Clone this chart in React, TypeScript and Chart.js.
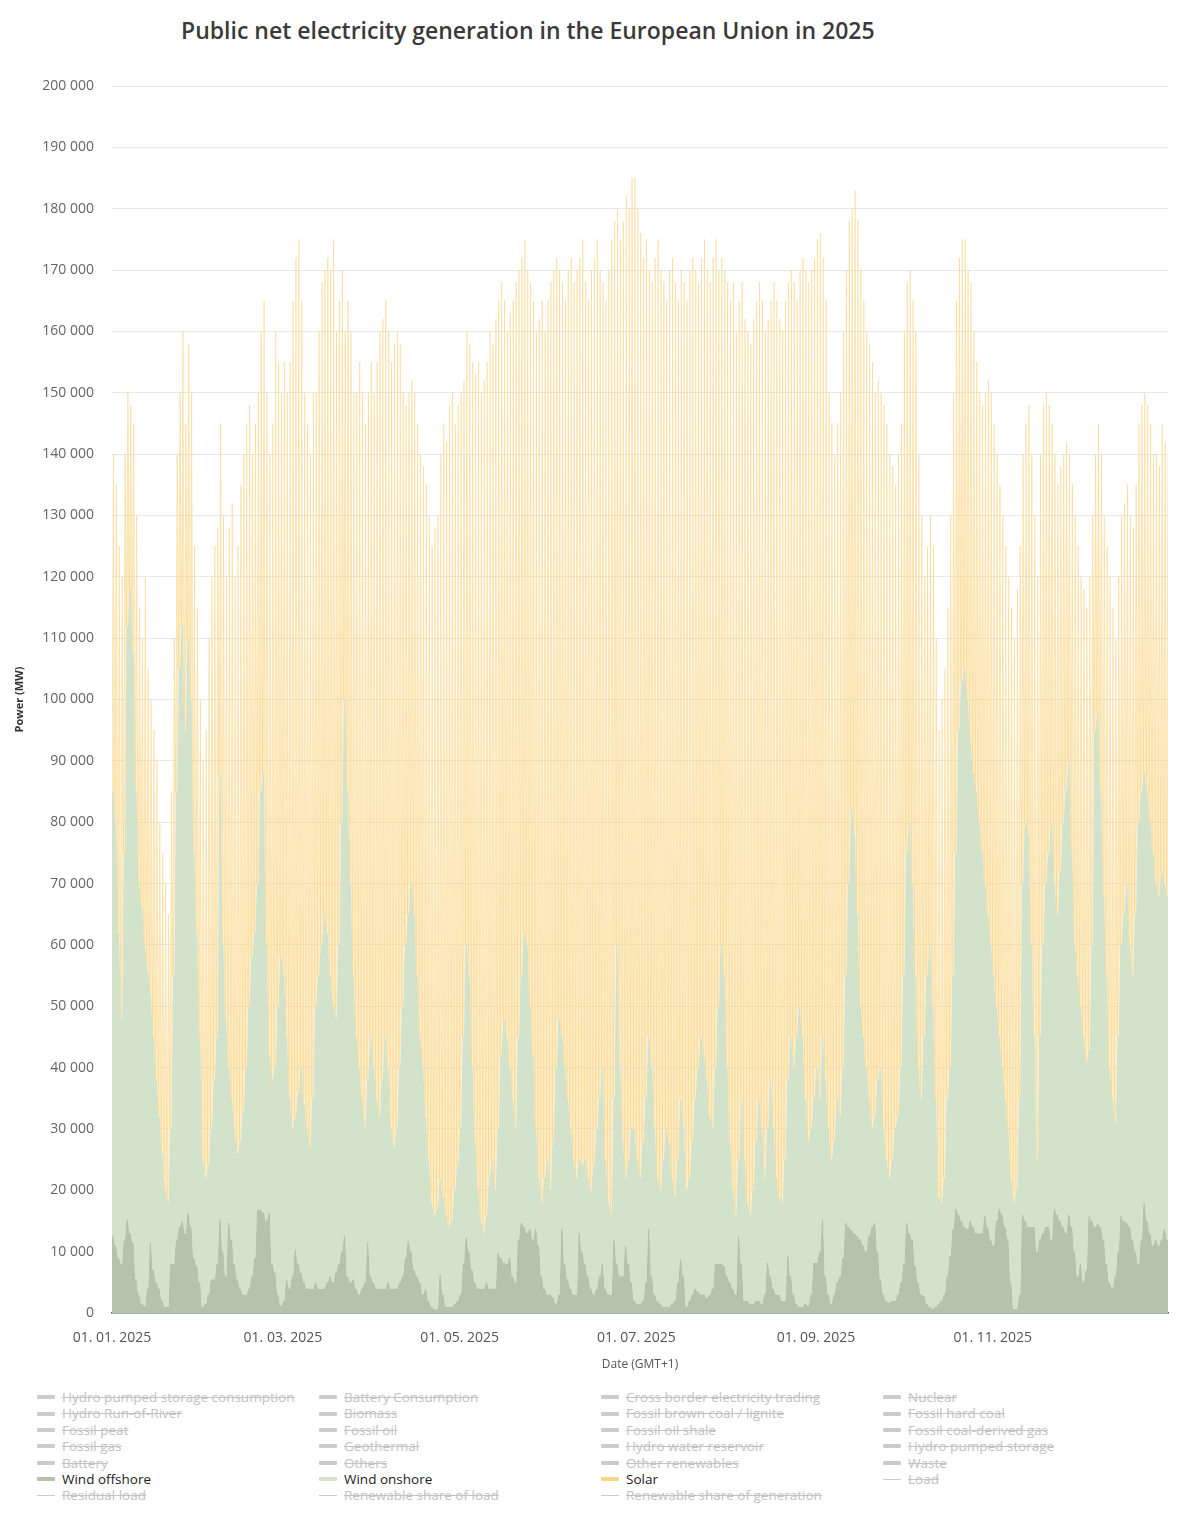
import { useEffect, useRef } from "react"
import { Chart, registerables } from "chart.js"

Chart.register(...registerables)

const FONT = '"Open Sans", "Noto Sans", sans-serif'

// x axis: day of year 2025 (0 = 01.01.)
const tickDays = [0, 59, 120, 181, 243, 304]
const tickLabels = ["01. 01. 2025", "01. 03. 2025", "01. 05. 2025", "01. 07. 2025", "01. 09. 2025", "01. 11. 2025"]

// daily readings in MW, one value per day
const windOffshore = [
	12600, 11000, 9000, 8000, 12000, 15300, 13000, 11500, 5500, 3000,
	1500, 1200, 4000, 11500, 7000, 5000, 4000, 2000, 1000, 1000,
	8000, 8000, 12000, 14000, 15000, 13000, 16400, 14000, 9000, 7700,
	5000, 1000, 1500, 3000, 5500, 5500, 8000, 15300, 10000, 6000,
	14700, 12000, 8000, 5500, 4000, 3000, 3000, 4000, 6000, 9000,
	16800, 16800, 16400, 15000, 16400, 8000, 6600, 3000, 1200, 2000,
	5500, 4000, 6000, 10400, 8000, 6600, 5000, 4000, 4000, 3900,
	5000, 4000, 3900, 4000, 5000, 6000, 5000, 6600, 8000, 10000,
	12600, 6000, 5000, 5500, 4000, 3000, 4000, 5000, 11500, 6000,
	5000, 4000, 4000, 3900, 4000, 5000, 3900, 4000, 4000, 5000,
	6000, 9000, 11800, 10000, 7000, 6000, 5000, 3000, 4000, 2000,
	1000, 600, 600, 6300, 3000, 1000, 1000, 1000, 1500, 2000,
	3000, 8000, 12300, 10000, 7000, 5000, 4000, 4000, 3900, 5000,
	4000, 4000, 4000, 9800, 9000, 8200, 8000, 9000, 6000, 5000,
	12000, 14700, 14000, 13100, 13700, 12000, 13700, 11000, 6000, 4000,
	3000, 3000, 2500, 1500, 3000, 13700, 8000, 5500, 4000, 3000,
	3000, 13000, 10000, 8000, 6000, 4000, 3000, 3900, 6000, 8000,
	4000, 3000, 3000, 12000, 8000, 6000, 6000, 11000, 8000, 5000,
	2000, 1500, 1500, 2000, 5000, 13700, 6000, 3000, 2000, 1500,
	1000, 1000, 1000, 1500, 2000, 5000, 8800, 6000, 1000, 2000,
	3000, 4000, 3500, 3000, 3000, 2500, 3000, 4000, 8000, 8000,
	8000, 7700, 6000, 5000, 4000, 3000, 12600, 8000, 2000, 2000,
	1500, 1500, 2000, 2000, 1500, 3000, 8200, 6000, 4000, 3000,
	3000, 2000, 2000, 9300, 6000, 3000, 1500, 1000, 1000, 1500,
	1200, 3000, 8200, 8200, 10000, 15300, 6000, 3000, 1500, 3000,
	5000, 6000, 9000, 14700, 14000, 13500, 13000, 12600, 12000, 11000,
	10000, 12600, 14000, 14700, 10000, 5500, 3000, 2000, 1700, 2000,
	2000, 3000, 5000, 8000, 14700, 13000, 12000, 7700, 5000, 3000,
	2800, 1500, 1000, 700, 1000, 1500, 2000, 3000, 6000, 9300,
	13700, 17000, 16000, 15000, 14000, 13700, 15000, 14000, 13000, 13000,
	13000, 15800, 14000, 12000, 11000, 15000, 17000, 16000, 14000, 12000,
	5000, 700, 700, 3000, 16000, 15000, 14000, 14000, 14000, 10000,
	12000, 13000, 14000, 14000, 12000, 17000, 16000, 15000, 14000, 13000,
	16000, 14000, 10000, 6000, 8000, 5000, 7000, 15800, 15000, 14000,
	14500, 14000, 12000, 8000, 5000, 4000, 6000, 10000, 15800, 15000,
	14700, 14000, 12000, 10000, 8000, 12000, 18000, 15000, 13000, 11000,
	12000, 11000, 12000, 13700, 12000,
]

const windOnshore = [
	72400, 69000, 53000, 40000, 63000, 96700, 105000, 96500, 79500, 67000,
	64500, 58800, 52000, 40500, 38000, 33000, 28000, 24000, 19000, 17000,
	22000, 47000, 73000, 91000, 97000, 82000, 93600, 86000, 66000, 54300,
	40000, 24000, 20500, 21000, 24500, 32500, 37000, 72700, 50000, 42000,
	25300, 23000, 22000, 20500, 24000, 30000, 37000, 46000, 52000, 53000,
	53200, 68200, 71600, 45000, 25600, 30000, 33400, 47000, 56800, 53000,
	39500, 31000, 24000, 21600, 28000, 33400, 29000, 26000, 23000, 31100,
	45000, 51000, 56100, 61000, 57000, 49000, 45000, 41400, 52000, 70000,
	87400, 79000, 65000, 49500, 41000, 37000, 31000, 25000, 26500, 39000,
	35000, 31000, 28000, 34100, 41000, 35000, 26100, 23000, 26000, 35000,
	44000, 51000, 53200, 60000, 58000, 49000, 40000, 37000, 28000, 23000,
	17000, 15400, 16400, 15700, 16000, 15000, 13000, 14000, 18500, 22000,
	27000, 37000, 47700, 45000, 33000, 23000, 16000, 11000, 9100, 11000,
	18000, 21000, 16000, 20200, 33000, 39800, 37000, 31000, 29000, 25000,
	33000, 40300, 48000, 46900, 36300, 30000, 16300, 11000, 12000, 18000,
	22000, 17000, 25500, 38500, 45000, 31300, 32000, 29500, 26000, 22000,
	19000, 12000, 14000, 17000, 16000, 16000, 21000, 26100, 29000, 32000,
	21000, 15000, 13000, 23000, 52000, 34000, 22000, 11000, 17000, 25000,
	28000, 23500, 20500, 26000, 30000, 31300, 34000, 27000, 20000, 18500,
	24000, 29000, 27000, 20500, 17000, 20000, 26200, 24000, 19000, 20000,
	25000, 31000, 36500, 42000, 39000, 35500, 29000, 26000, 32000, 42000,
	52000, 47300, 34000, 23000, 16000, 13000, 12400, 27000, 23000, 16000,
	14500, 18500, 26000, 33000, 28500, 19000, 21800, 32000, 26000, 19000,
	16000, 16000, 23000, 28700, 39000, 37000, 43500, 49000, 44000, 33500,
	26800, 27000, 26800, 31800, 25000, 29700, 32000, 27000, 23500, 25000,
	30000, 26000, 31000, 40300, 56000, 68500, 65000, 52400, 38000, 34000,
	30000, 22400, 16000, 17300, 28000, 34500, 27000, 23000, 20300, 23000,
	28000, 29000, 35000, 47000, 60300, 67000, 58000, 47300, 35000, 32000,
	42200, 53500, 59000, 49300, 34000, 17500, 16000, 19000, 29000, 30700,
	41300, 58000, 79000, 88000, 91000, 86300, 78000, 74000, 72000, 67000,
	62000, 54200, 51000, 48000, 44000, 35000, 28000, 24000, 21000, 18000,
	17000, 17300, 19300, 32000, 54000, 65000, 64000, 46000, 31000, 15000,
	33000, 47000, 56000, 61000, 68000, 53000, 49000, 57000, 66000, 72000,
	74000, 61000, 50000, 49000, 42000, 40000, 34000, 27200, 45000, 81000,
	83500, 71000, 56000, 47000, 35000, 31000, 25000, 35000, 44200, 50000,
	55300, 46000, 43000, 55000, 72000, 73000, 70000, 70000, 67000, 64000,
	58000, 57000, 60000, 56300, 56000,
]

// solar at midday (night value is zero)
const solarNoon = [
	55000, 55000, 63000, 72000, 65000, 38000, 30000, 37000, 45000, 45000,
	44000, 60000, 49000, 48000, 50000, 52000, 48000, 49000, 50000, 47000,
	55000, 55000, 55000, 45000, 48000, 50000, 48000, 50000, 50000, 53000,
	55000, 65000, 73000, 86000, 90000, 87000, 83000, 57000, 70000, 72000,
	88000, 97000, 90000, 99000, 107000, 107000, 105000, 98000, 82000, 83000,
	80000, 75000, 77000, 90000, 98000, 107000, 120000, 105000, 92000, 100000,
	105000, 120000, 135000, 140000, 139000, 125000, 116000, 115000, 113000, 115000,
	100000, 105000, 108000, 105000, 110000, 115000, 125000, 112000, 105000, 90000,
	60000, 80000, 90000, 95000, 105000, 115000, 115000, 115000, 112000, 110000,
	110000, 120000, 128000, 124000, 120000, 120000, 125000, 131000, 130000, 118000,
	100000, 88000, 85000, 82000, 85000, 90000, 95000, 98000, 103000, 105000,
	107000, 112000, 113000, 118000, 126000, 126000, 134000, 135000, 125000, 124000,
	120000, 107000, 100000, 103000, 115000, 125000, 135000, 135000, 139000, 139000,
	138000, 133000, 142000, 135000, 126000, 117000, 115000, 123000, 130000, 138000,
	125000, 117000, 113000, 110000, 118000, 123000, 130000, 140000, 147000, 138000,
	140000, 148000, 142000, 132000, 122000, 123000, 125000, 135000, 142000, 143000,
	148000, 147000, 151000, 143000, 143000, 150000, 148000, 145000, 135000, 128000,
	140000, 152000, 159000, 143000, 120000, 135000, 150000, 160000, 155000, 155000,
	155000, 155000, 154000, 144000, 140000, 125000, 128000, 142000, 153000, 150000,
	143000, 135000, 142000, 150000, 149000, 140000, 135000, 138000, 145000, 148000,
	144000, 135000, 128000, 127000, 133000, 132000, 136000, 142000, 135000, 120000,
	112000, 115000, 128000, 137000, 148000, 144000, 140000, 133000, 137000, 142000,
	142000, 142000, 137000, 133000, 135000, 138000, 132000, 127000, 138000, 143000,
	143000, 142000, 140000, 130000, 125000, 128000, 120000, 120000, 127000, 135000,
	140000, 140000, 137000, 135000, 141000, 127000, 127000, 120000, 120000, 112000,
	110000, 118000, 120000, 115000, 108000, 98000, 105000, 113000, 120000, 120000,
	120000, 123000, 125000, 118000, 114000, 110000, 118000, 120000, 118000, 113000,
	105000, 108000, 105000, 105000, 93000, 90000, 95000, 105000, 100000, 95000,
	75000, 70000, 70000, 75000, 75000, 76000, 82000, 83000, 80000, 90000,
	95000, 90000, 77000, 72000, 70000, 70000, 75000, 72000, 70000, 70000,
	73000, 80000, 87000, 90000, 90000, 90000, 90000, 90000, 90000, 90000,
	93000, 92000, 98000, 90000, 70000, 65000, 70000, 80000, 85000, 95000,
	95000, 88000, 80000, 73000, 65000, 70000, 70000, 66000, 60000, 57000,
	50000, 60000, 70000, 70000, 70000, 73000, 74000, 77000, 70000, 45000,
	47000, 55000, 62000, 70000, 80000, 80000, 79000, 75000, 70000, 67000,
	65000, 70000, 73000, 70000, 65000, 63000, 62000, 63000, 65000, 65000,
	70000, 70000, 73000, 72000, 72000,
]

const legendRows = [
	["Hydro pumped storage consumption", "Battery Consumption", "Cross border electricity trading", "Nuclear"],
	["Hydro Run-of-River", "Biomass", "Fossil brown coal / lignite", "Fossil hard coal"],
	["Fossil peat", "Fossil oil", "Fossil oil shale", "Fossil coal-derived gas"],
	["Fossil gas", "Geothermal", "Hydro water reservoir", "Hydro pumped storage"],
	["Battery", "Others", "Other renewables", "Waste"],
	["Wind offshore", "Wind onshore", "Solar", "Load"],
	["Residual load", "Renewable share of load", "Renewable share of generation"],
]
const lineSeries = ["Load", "Residual load", "Renewable share of load", "Renewable share of generation"]
const shownColors: Record<string, string> = {
	"Wind offshore": "#b4c4ac",
	"Wind onshore": "#d3e2ca",
	Solar: "#fbd784",
}

// two samples per day: midnight and noon
const dayPoints = (values: number[]) => values.flatMap((v, d) => [{ x: d, y: v }, { x: d + 0.5, y: v }])
const solarPoints = solarNoon.flatMap((v, d) => [{ x: d, y: 0 }, { x: d + 0.5, y: v }])

const formatMW = (v: number) => String(v).replace(/\B(?=(\d{3})+(?!\d))/g, " ")

export default function App() {
	const chartRef = useRef<HTMLCanvasElement>(null)
	const chartInstance = useRef<Chart | null>(null)

	useEffect(() => {
		document.body.style.margin = "0"
		if (!chartRef.current) return
		if (chartInstance.current) chartInstance.current.destroy()
		const ctx = chartRef.current.getContext("2d")
		if (!ctx) return

		chartInstance.current = new Chart(ctx, {
			type: "line",
			data: {
				datasets: [
					{
						label: "Wind offshore",
						data: dayPoints(windOffshore),
						backgroundColor: "#b4c4ac",
						borderWidth: 0,
						fill: "origin",
					},
					{
						label: "Wind onshore",
						data: dayPoints(windOnshore),
						backgroundColor: "#d3e2ca",
						borderWidth: 0,
						fill: "-1",
					},
					{
						label: "Solar",
						data: solarPoints,
						backgroundColor: "rgba(252, 218, 140, 0.48)",
						borderColor: "rgba(246, 204, 112, 0.7)",
						borderWidth: 0.6,
						fill: "-1",
					},
				],
			},
			options: {
				responsive: false,
				animation: false,
				devicePixelRatio: 1,
				events: [],
				layout: { padding: { top: 86, right: 32, left: 0, bottom: 0 } },
				elements: { point: { radius: 0 }, line: { tension: 0 } },
				plugins: { legend: { display: false }, tooltip: { enabled: false } },
				scales: {
					x: {
						type: "linear",
						min: 0,
						max: 364.5,
						grid: { display: false, drawTicks: false },
						border: { display: true, color: "#5f5f5f", width: 1.5 },
						afterBuildTicks: (scale: any) => {
							scale.ticks = tickDays.map((v) => ({ value: v }))
						},
						afterFit: (scale: any) => {
							scale.height = 67
						},
						ticks: {
							autoSkip: false,
							maxRotation: 0,
							padding: 17,
							color: "#555",
							font: { family: FONT, size: 14 },
							callback: (_v: any, i: number) => tickLabels[i],
						},
						title: {
							display: true,
							text: "Date (GMT+1)",
							color: "#555",
							font: { family: FONT, size: 12 },
							padding: { top: 4, bottom: 8 },
						},
					},
					y: {
						stacked: true,
						min: 0,
						max: 200000,
						z: 1,
						border: { display: false },
						grid: {
							drawTicks: false,
							color: (c: any) => (c.tick && c.tick.value === 0 ? "rgba(0,0,0,0)" : "rgba(0,0,0,0.085)"),
						},
						afterFit: (scale: any) => {
							scale.width = 112
						},
						ticks: {
							stepSize: 10000,
							padding: 18,
							color: "#666",
							font: { family: FONT, size: 14 },
							callback: (v: any) => formatMW(Number(v)),
						},
						title: {
							display: true,
							text: "Power (MW)",
							color: "#333",
							font: { family: FONT, size: 11, weight: "bold" },
							padding: { top: 13, bottom: 0 },
						},
					},
				},
			},
		})

		return () => {
			if (chartInstance.current) {
				chartInstance.current.destroy()
				chartInstance.current = null
			}
		}
	}, [])

	return (
		<div style={{ position: "relative", width: 1200, height: 1520, background: "#fff", fontFamily: FONT }}>
			<div
				style={{
					position: "absolute",
					top: 13,
					left: 181,
					height: 34,
					lineHeight: "34px",
					fontSize: 23,
					fontWeight: 600,
					color: "#3a3a3a",
					whiteSpace: "nowrap",
				}}
			>
				Public net electricity generation in the European Union in 2025
			</div>
			<canvas ref={chartRef} width={1200} height={1380} style={{ position: "absolute", top: 0, left: 0 }}></canvas>
			<div style={{ position: "absolute", top: 1389, left: 37 }}>
				{legendRows.map((row, r) => (
					<div key={r} style={{ display: "flex", height: 16.4 }}>
						{row.map((name) => {
							const color = shownColors[name]
							const isLine = lineSeries.includes(name)
							return (
								<div
									key={name}
									style={{ width: 282, display: "flex", alignItems: "center", fontSize: 13.5, lineHeight: "16.4px" }}
								>
									<span
										style={{
											display: "inline-block",
											width: 18,
											height: isLine ? 1 : 4,
											borderRadius: isLine ? 0 : 1,
											background: color || "#cccccc",
											marginRight: 7,
										}}
									></span>
									<span
										style={{
											color: color ? "#222" : "#c2c2c2",
											textDecoration: color ? "none" : "line-through",
											whiteSpace: "nowrap",
										}}
									>
										{name}
									</span>
								</div>
							)
						})}
					</div>
				))}
			</div>
		</div>
	)
}
